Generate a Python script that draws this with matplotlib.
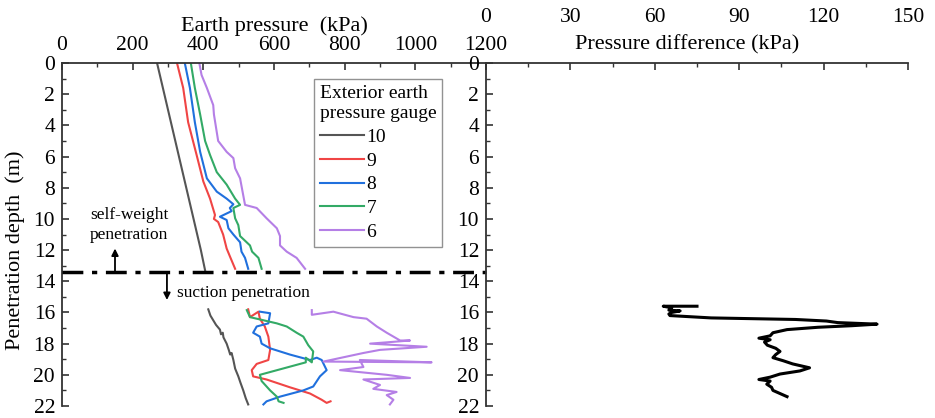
"""Earth pressure vs penetration depth (left) and pressure difference (right)."""
import numpy as np
import matplotlib

matplotlib.use("Agg")
import matplotlib.pyplot as plt
from matplotlib.ticker import MultipleLocator

plt.rcParams["font.family"] = ["Liberation Serif", "DejaVu Serif"]
plt.rcParams["mathtext.fontset"] = "stix"

nan = np.nan

# --- data --------------------------------------------------------------------
# each gauge: upper segment (self-weight), NaN break, lower segment (suction)
g10_depth = [0, 3, 6, 9, 12, 13.3, nan,
             15.8, 16.2, 16.5, 16.8, 17.1, 17.4, 17.3, 17.6, 18.0, 18.4, 18.7, 18.6,
             19.05, 19.6, 20.1, 20.5, 21.0, 21.5, 21.9]
g10_press = [269, 300, 331, 362, 393, 405, nan,
             414, 420, 428, 436, 447, 450, 455, 457, 466, 472, 476, 480,
             485, 490, 499, 505, 513, 520, 527]

g9_depth = [0.05, 1.6, 3.8, 5.9, 7.6, 8.7, 9.75, 10.0, 10.2, 11.0, 11.9, 12.5, 13.2, nan,
            15.8, 16.3, 15.95, 16.4, 16.9, 17.55, 18.4, 19.05, 19.3, 19.7, 20.1,
            20.3, 20.8, 21.2, 21.6, 21.8, 21.7]
g9_press = [326, 343, 357, 381, 400, 419, 433, 430, 442, 456, 466, 477, 490, nan,
            527, 532, 556, 560, 574, 584, 589, 584, 551, 537, 541,
            579, 645, 702, 735, 749, 760]

g8_depth = [0.05, 1.6, 3.8, 5.7, 7.4, 8.25, 8.7, 9.06, 9.3, 9.5, 9.86, 10.07, 10.6,
            11.0, 11.5, 12.1, 12.5, 13.2, nan,
            15.95, 16.05, 16.7, 16.9, 17.3, 17.55, 18.0, 18.3, 18.7, 19.05, 18.9,
            19.05, 19.7, 20.1, 20.75, 21.0, 21.4, 21.7, 21.9]
g8_press = [348, 362, 376, 391, 410, 438, 466, 485, 475, 480, 447, 466, 471,
            485, 504, 508, 518, 527, nan,
            560, 589, 584, 551, 541, 560, 565, 589, 645, 702, 721,
            735, 749, 730, 711, 683, 617, 579, 570]

g7_depth = [0.05, 1.6, 3.3, 5.0, 5.9, 7.0, 7.8, 8.7, 9.1, 9.3, 9.96, 10.4, 11.1,
            11.7, 12.1, 12.5, 13.2, nan,
            15.85, 16.3, 16.5, 16.7, 16.9, 17.3, 17.55, 18.1, 18.5, 19.2, 18.9,
            19.2, 20.0, 20.4, 21.0, 21.4, 21.7, 21.8]
g7_press = [365, 376, 391, 405, 419, 438, 466, 490, 504, 485, 490, 499, 504,
            532, 538, 556, 565, nan,
            523, 532, 570, 608, 636, 664, 683, 697, 711, 707, 690,
            690, 560, 565, 589, 608, 613, 627]

g6_depth = [0.05, 0.77, 1.6, 2.7, 3.3, 5.0, 5.7, 6.1, 6.75, 7.4, 8.25, 9.1, 9.3,
            9.96, 10.6, 11.1, 11.7, 12.1, 12.5, 13.2, nan,
            15.85, 16.15, 15.95, 16.3, 16.4, 16.9, 17.3, 17.8, 17.8, 18.0, 18.2,
            18.4, 18.6, 19.15, 19.2, 19.05, 19.5, 19.7, 20.0, 20.2, 20.3, 20.65,
            20.9, 21.1, 21.3, 21.6, 21.9]
g6_press = [389, 395, 410, 428, 430, 442, 466, 485, 490, 504, 511, 518, 551,
            579, 608, 617, 617, 636, 664, 688, nan,
            707, 707, 768, 825, 862, 891, 919, 957, 985, 872, 1032,
            900, 853, 740, 1046, 843, 853, 787, 919, 985, 853, 900,
            881, 947, 919, 938, 928]

diff_depth = [15.6, 15.6, 15.7, 15.85, 15.9, 16.0, 16.1, 16.2, 16.35, 16.45, 16.55,
              16.65, 16.75, 16.85, 16.95, 17.1, 17.3, 17.5, 17.65, 17.75, 17.9,
              18.1, 18.3, 18.5, 18.7, 18.9, 19.1, 19.3, 19.55, 19.75, 19.95, 20.15,
              20.3, 20.4, 20.6, 20.8, 21.0, 21.2, 21.4]
diff_kpa = [75, 63, 66, 65, 69, 66, 65, 65.4, 80, 110, 121,
            125, 139, 130, 118, 107, 102, 101, 97, 101, 99,
            100, 103, 104.5, 103, 102, 105.7, 109, 115, 111.6, 104.5, 101,
            97, 101, 99.8, 101.5, 102, 104.5, 107]

gauges = ["10", "9", "8", "7", "6"]
colors = ["#555555", "#f04545", "#2070dd", "#33aa66", "#b57fe6"]
interface_depth = 13.4

# --- figure -------------------------------------------------------------------
fig = plt.figure(figsize=(9.35, 4.18), dpi=100)
axl = fig.add_axes([62 / 935, 1 - 406 / 418, 424 / 935, 343 / 418])
axr = fig.add_axes([486 / 935, 1 - 406 / 418, 422 / 935, 343 / 418])

series = [(g10_depth, g10_press), (g9_depth, g9_press), (g8_depth, g8_press),
          (g7_depth, g7_press), (g6_depth, g6_press)]
for (d, p), lab, c in zip(series, gauges, colors):
    axl.plot(p, d, color=c, lw=1.5, label=lab)

axl.axhline(interface_depth, color="black", lw=2.5, ls=(0, (6, 2.5, 1.5, 2.5)),
            clip_on=False, zorder=5)

axr.plot(diff_kpa, diff_depth, color="black", lw=2.2)

for ax in (axl, axr):
    ax.set_ylim(22, 0)
    ax.xaxis.set_ticks_position("top")
    ax.xaxis.set_label_position("top")
    ax.spines["bottom"].set_visible(False)
    ax.spines["right"].set_visible(False)
    for s in ("top", "left"):
        ax.spines[s].set_linewidth(1.3)
        ax.spines[s].set_color("#333333")
    ax.yaxis.set_major_locator(MultipleLocator(2))
    ax.yaxis.set_minor_locator(MultipleLocator(1))
    ax.tick_params(which="both", direction="in", labelsize=15.5, color="#333333")
    ax.tick_params(which="major", length=5, width=1.2)
    ax.tick_params(which="minor", length=3, width=1.0)
    ax.tick_params(axis="y", pad=5)
    ax.patch.set_visible(False)

axl.set_xlim(0, 1200)
axl.xaxis.set_major_locator(MultipleLocator(200))
axl.xaxis.set_minor_locator(MultipleLocator(100))
axl.tick_params(axis="x", pad=6)
axl.set_xlabel("Earth pressure  (kPa)", fontsize=16, labelpad=3)
axl.text(-0.111, 0.455, "Penetration depth  (m)", transform=axl.transAxes,
         rotation=90, fontsize=16, ha="center", va="center")

axr.set_xlim(0, 150)
axr.xaxis.set_major_locator(MultipleLocator(30))
axr.xaxis.set_minor_locator(MultipleLocator(15))
axr.tick_params(axis="x", pad=26)
axr.text(0.476, 1.052, "Pressure difference (kPa)", transform=axr.transAxes,
         fontsize=16, ha="center", va="center")

leg = axl.legend(title="Exterior earth\npressure gauge", loc="upper left",
                 bbox_to_anchor=(0.594, 0.952), fontsize=14, title_fontsize=14,
                 frameon=True, fancybox=False, edgecolor="#777777",
                 handlelength=2.3, handletextpad=0.1, labelspacing=0.32,
                 borderpad=0.3, borderaxespad=0)
leg._legend_box.align = "left"
leg.get_frame().set_linewidth(1.0)

# annotations about the two penetration stages
axl.text(190, 10.4, "self-weight\npenetration", fontsize=12.5, ha="center",
         va="center", linespacing=1.35)
axl.annotate("", xy=(150, 11.9), xytext=(150, interface_depth),
             arrowprops=dict(arrowstyle="-|>", color="black", lw=1.3,
                             mutation_scale=10, shrinkA=0, shrinkB=0))
axl.annotate("", xy=(297, 15.2), xytext=(297, interface_depth),
             arrowprops=dict(arrowstyle="-|>", color="black", lw=1.3,
                             mutation_scale=10, shrinkA=0, shrinkB=0))
axl.text(325, 14.75, "suction penetration", fontsize=12.5, ha="left", va="center")

fig.savefig("out.png", dpi=100)
